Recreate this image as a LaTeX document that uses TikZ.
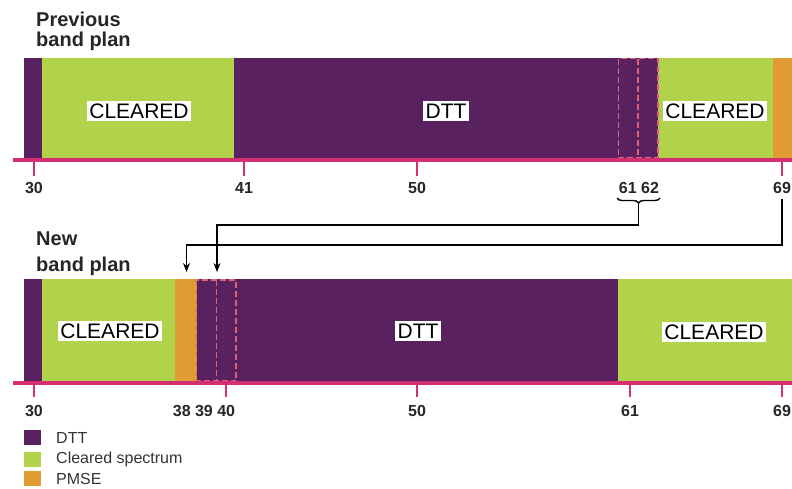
\documentclass[tikz,border=0pt]{standalone}
\usepackage{fontspec}
\setmainfont{Liberation Sans}
\usetikzlibrary{arrows.meta,decorations.pathreplacing}

\definecolor{dttpurple}{HTML}{5A2160}
\definecolor{clrgreen}{HTML}{B0D34B}
\definecolor{pmseorange}{HTML}{E09B32}
\definecolor{axispink}{HTML}{D42E72}
\definecolor{guardpink}{HTML}{DC6478}
\definecolor{legendgray}{HTML}{333333}

\tikzset{
  axisline/.style={draw=axispink, line width=4pt},
  tickmark/.style={draw=axispink, line width=1.5pt},
  guard/.style={draw=guardpink, dash pattern=on 6pt off 3pt, line width=1.4pt},
  bandlabel/.style={fill=white, inner sep=2.5pt, text=black,
    font=\fontsize{21}{21}\selectfont},
  chlabel/.style={inner sep=0pt, text=black!85,
    font=\bfseries\fontsize{16}{16}\selectfont},
  plantitle/.style={anchor=base west, inner sep=0pt, text=black!85,
    font=\bfseries\fontsize{20}{20}\selectfont},
  legendbox/.style={minimum width=17pt, minimum height=15pt, inner sep=0pt},
  legendtext/.style={anchor=west, inner sep=0pt, text=legendgray,
    font=\fontsize{16}{16}\selectfont},
  link/.style={draw=black, line width=1.4pt},
  linkarrow/.style={link, -{Stealth[length=9pt,width=7pt]}}
}

\begin{document}
\begin{tikzpicture}[x=1pt, y=-1pt]
    \useasboundingbox (0,0) rectangle (792,488);

    % previous band plan
    \node[plantitle] (prev_a) at (36,26) {Previous};
    \node[plantitle] (prev_b) at (36,46) {band plan};

    \fill[dttpurple]  (24,57.5) rectangle (42,158);
    \fill[clrgreen]   (42,57.5) rectangle (233.5,158);
    \fill[dttpurple]  (233.5,57.5) rectangle (658,158);
    \fill[clrgreen]   (658,57.5) rectangle (772.5,158);
    \fill[pmseorange] (772.5,57.5) rectangle (792,158);
    \draw[guard] (618.5,58.5) rectangle (658,158);
    \draw[guard] (638,58.5) -- (638,158);

    \draw[axisline] (13,160) -- (792,160);
    \foreach \tx in {34,244,417,782}
        \draw[tickmark] (\tx,160) -- (\tx,176);

    \node[bandlabel] (prev_clr1) at (139,111) {CLEARED};
    \node[bandlabel] (prev_dtt) at (446,111) {DTT};
    \node[bandlabel] (prev_clr2) at (715,111) {CLEARED};

    \node[chlabel] (p30) at (34,188) {30};
    \node[chlabel] (p41) at (244,188) {41};
    \node[chlabel] (p50) at (417,188) {50};
    \node[chlabel] (p6162) at (639,188) {61 62};
    \node[chlabel] (p69) at (782,188) {69};

    % new band plan
    \node[plantitle] (new_a) at (36,245) {New};
    \node[plantitle] (new_b) at (36,271) {band plan};

    \fill[dttpurple]  (24,279) rectangle (42,381);
    \fill[clrgreen]   (42,279) rectangle (175,381);
    \fill[pmseorange] (175,279) rectangle (196.5,381);
    \fill[dttpurple]  (196.5,279) rectangle (618,381);
    \fill[clrgreen]   (618,279) rectangle (792,381);
    \draw[guard] (196.5,280) rectangle (236,381);
    \draw[guard] (216.5,280) -- (216.5,381);

    \draw[axisline] (13,383) -- (792,383);
    \foreach \tx in {34,226,417,630,782}
        \draw[tickmark] (\tx,383) -- (\tx,397);

    \node[bandlabel] (new_clr1) at (110,331) {CLEARED};
    \node[bandlabel] (new_dtt) at (418,331) {DTT};
    \node[bandlabel] (new_clr2) at (714,332) {CLEARED};

    \node[chlabel] (n30) at (34,411) {30};
    \node[chlabel] (n383940) at (204,411) {38 39 40};
    \node[chlabel] (n50) at (417,411) {50};
    \node[chlabel] (n61) at (630,411) {61};
    \node[chlabel] (n69) at (782,411) {69};

    % moved channels
    \coordinate (brace_r) at (660,198);
    \coordinate (brace_l) at (617,198);
    \coordinate (brace_tip) at (638.5,204);
    \coordinate (to39) at (217,272);
    \coordinate (to38) at (186.5,272);
    \draw[link, decorate, decoration={brace, amplitude=5pt}] (brace_r) -- (brace_l);
    \draw[linkarrow] (brace_tip) -- (brace_tip |- 0,225) -| (to39);
    \draw[linkarrow, shorten <=5pt] (p69) -- (p69 |- 0,245) -| (to38);

    % legend
    \node[legendbox, fill=dttpurple] (leg_dtt) at (32.5,437.5) {};
    \node[legendbox, fill=clrgreen] (leg_clr) at (32.5,459) {};
    \node[legendbox, fill=pmseorange] (leg_pmse) at (32.5,478.5) {};
    \node[legendtext] (leg_dtt_t) at (56,437.5) {DTT};
    \node[legendtext] (leg_clr_t) at (56,459) {Cleared spectrum};
    \node[legendtext] (leg_pmse_t) at (56,478.5) {PMSE};
\end{tikzpicture}
\end{document}
